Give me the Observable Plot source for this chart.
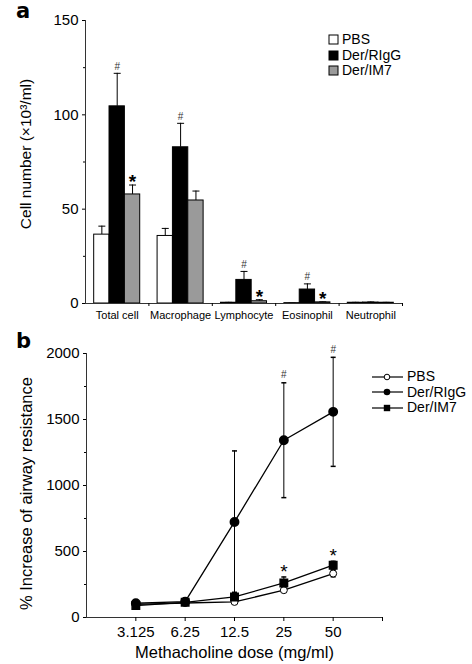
<!DOCTYPE html>
<html><head><meta charset="utf-8">
<script src="https://cdn.jsdelivr.net/npm/d3@7"></script>
<script src="https://cdn.jsdelivr.net/npm/@observablehq/plot@0.6"></script>
<style>
body{margin:0;background:#fff;font-family:"Liberation Sans",Arial,sans-serif;color:#000;}
#wrap{position:relative;width:472px;height:664px;overflow:hidden;}
.panel{position:absolute;left:0;}
.plab{position:absolute;font-weight:bold;font-size:21px;line-height:22px;font-family:"DejaVu Sans","Liberation Sans",sans-serif;}
.leg{position:absolute;font-size:14px;line-height:15.5px;}
.leg div{display:flex;align-items:center;height:15.5px;}
.leg svg{margin-right:3px;}
</style></head><body><div id="wrap"></div>
<script>
// ---- Panel a data ----
const cellGroups = ["Total cell", "Macrophage", "Lymphocyte", "Eosinophil", "Neutrophil"];
const cellSeries = ["PBS", "Der/RIgG", "Der/IM7"];
const pbsCells = [36.5, 35.8, 0.4, 0.2, 0.4];
const pbsCellErr = [4.5, 4.0, 0.2, 0.1, 0.2];
const rigCells = [104.5, 82.8, 12.5, 7.4, 0.5];
const rigCellErr = [17.5, 12.7, 4.5, 3.0, 0.3];
const im7Cells = [57.8, 54.6, 1.2, 0.6, 0.4];
const im7CellErr = [5.0, 5.0, 0.8, 0.3, 0.2];
const rigCellSig = ["#", "#", "#", "#", ""];
const im7CellSig = ["*", "", "*", "*", ""];
const cellTicks = [0, 50, 100, 150];
const cellMinorTicks = [25, 75, 125];
const cellYLabel = "Cell number (×10³/ml)";

// ---- Panel b data ----
const doses = [3.125, 6.25, 12.5, 25, 50];
const arSeries = ["PBS", "Der/RIgG", "Der/IM7"];
const pbsAR = [100, 110, 118, 207, 333];
const pbsARErr = [10, 10, 15, 15, 25];
const rigAR = [108, 120, 724, 1343, 1558];
const rigARErr = [15, 15, 538, 435, 413];
const im7AR = [90, 115, 156, 262, 396];
const im7ARErr = [10, 10, 35, 45, 30];
const rigARSig = ["", "", "", "#", "#"];
const im7ARSig = ["", "", "", "*", "*"];
const arTicks = [0, 500, 1000, 1500, 2000];
const arMinorTicks = [250, 750, 1250, 1750];
const arYLabel = "% Increase of airway resistance";
const arXLabel = "Methacholine dose (mg/ml)";

const FONT = "Liberation Sans, Arial, sans-serif";
const wrap = document.getElementById("wrap");

// custom horizontal cap symbol for error bars
const capSymbol = {draw(ctx, size) { const w = Math.sqrt(size / Math.PI); ctx.moveTo(-w, 0); ctx.lineTo(w, 0); }};

// ---------- Panel a ----------
const cellVals = [pbsCells, rigCells, im7Cells];
const cellErrs = [pbsCellErr, rigCellErr, im7CellErr];
const cellSigs = [cellGroups.map(() => ""), rigCellSig, im7CellSig];
const rowsA = [];
cellGroups.forEach((g, gi) => cellSeries.forEach((s, si) => {
  rowsA.push({g, gi, s, si, v: cellVals[si][gi], e: cellErrs[si][gi], m: cellSigs[si][gi]});
}));
const bw = 0.242;
const xl = d => d.gi + 0.5 + (d.si - 1.5) * bw;
const xc = d => xl(d) + bw / 2;

const plotA = Plot.plot({
  width: 472, height: 330,
  marginLeft: 85, marginRight: 70, marginTop: 20, marginBottom: 27,
  style: {fontFamily: FONT, fontSize: "15px", background: "#fff", color: "#000"},
  x: {domain: [0, cellGroups.length]},
  y: {domain: [0, 150]},
  color: {domain: cellSeries, range: ["#ffffff", "#000000", "#9a9a9a"]},
  marks: [
    Plot.ruleX(rowsA, {x: xc, y1: "v", y2: d => d.v + d.e, stroke: "#000", strokeWidth: 1}),
    Plot.dot(rowsA, {x: xc, y: d => d.v + d.e, symbol: capSymbol, r: 3.5, stroke: "#000", strokeWidth: 1}),
    Plot.rectY(rowsA, {x1: xl, x2: d => xl(d) + bw, y: "v", fill: "s", stroke: "#000", strokeWidth: 1}),
    Plot.text(rowsA.filter(d => d.m === "#"), {x: xc, y: d => d.v + d.e, text: "m", dy: -7, fontSize: 10, fill: "#333"}),
    Plot.text(rowsA.filter(d => d.m === "*"), {x: xc, y: d => d.v + d.e, text: "m", dy: -3, fontSize: 19, fontWeight: "bold"}),
    Plot.frame({anchor: "left", stroke: "#333"}),
    Plot.frame({anchor: "bottom", stroke: "#333"}),
    Plot.axisY({ticks: cellTicks, tickSize: 3, tickPadding: 4, fontSize: 15, tickFormat: d3.format("d"), label: null}),
    Plot.axisY({ticks: cellMinorTicks, tickSize: 2, tickFormat: () => "", label: null}),
    Plot.text([cellYLabel], {frameAnchor: "left", text: d => d, rotate: -90, textAnchor: "middle", lineAnchor: "middle", dx: -59, dy: -8, fontSize: 15.5}),
    Plot.axisX({ticks: cellGroups.map((g, i) => i + 1), tickSize: 3, tickFormat: () => "", label: null}),
    Plot.axisX({ticks: cellGroups.map((g, i) => i + 0.5), tickSize: 0, tickPadding: 8, fontSize: 11,
      tickFormat: d => cellGroups[Math.floor(d)], label: null})
  ]
});
plotA.classList.add("panel");
plotA.style.top = "0px";
wrap.appendChild(plotA);

// ---------- Panel b ----------
const arVals = [pbsAR, rigAR, im7AR];
const arErrs = [pbsARErr, rigARErr, im7ARErr];
const arSigs = [doses.map(() => ""), rigARSig, im7ARSig];
const rowsB = [];
arSeries.forEach((s, si) => doses.forEach((dose, di) => {
  rowsB.push({s, si, dose, v: arVals[si][di], e: arErrs[si][di], m: arSigs[si][di]});
}));

const plotB = Plot.plot({
  width: 472, height: 334,
  marginLeft: 86, marginRight: 90, marginTop: 23, marginBottom: 47,
  style: {fontFamily: FONT, fontSize: "15px", background: "#fff", color: "#000"},
  x: {type: "log", base: 2, domain: [doses[0] / 2, doses[doses.length - 1] * 2]},
  y: {domain: [0, 2000]},
  marks: [
    Plot.ruleX(rowsB, {x: "dose", y1: d => d.v - d.e, y2: d => d.v + d.e, stroke: "#000", strokeWidth: 1}),
    Plot.dot(rowsB, {x: "dose", y: d => d.v + d.e, symbol: capSymbol, r: 2.5, stroke: "#000"}),
    Plot.dot(rowsB, {x: "dose", y: d => d.v - d.e, symbol: capSymbol, r: 2.5, stroke: "#000"}),
    Plot.line(rowsB, {x: "dose", y: "v", z: "s", stroke: "#000", strokeWidth: 1.3}),
    Plot.dot(rowsB.filter(d => d.si === 0), {x: "dose", y: "v", r: 3.5, fill: "#fff", stroke: "#000", strokeWidth: 1}),
    Plot.dot(rowsB.filter(d => d.si === 1), {x: "dose", y: "v", r: 4.2, fill: "#000", stroke: "#000"}),
    Plot.dot(rowsB.filter(d => d.si === 2), {x: "dose", y: "v", r: 4.2, symbol: "square", fill: "#000", stroke: "#000"}),
    Plot.text(rowsB.filter(d => d.m === "#"), {x: "dose", y: d => d.v + d.e, text: "m", dy: -8, fontSize: 10, fill: "#333"}),
    Plot.text(rowsB.filter(d => d.m === "*"), {x: "dose", y: d => d.v + d.e, text: "m", dy: -5, fontSize: 19}),
    Plot.frame({anchor: "left", stroke: "#333"}),
    Plot.frame({anchor: "bottom", stroke: "#333"}),
    Plot.axisY({ticks: arTicks, tickSize: 3, tickPadding: 4, fontSize: 15, tickFormat: d3.format("d"), label: null}),
    Plot.axisY({ticks: arMinorTicks, tickSize: 2, tickFormat: () => "", label: null}),
    Plot.text([arYLabel], {frameAnchor: "left", text: d => d, rotate: -90, textAnchor: "middle", lineAnchor: "middle", dx: -60, dy: 8, fontSize: 16.5}),
    Plot.axisX({ticks: doses, tickSize: 4, tickPadding: 5, fontSize: 15, tickFormat: d => String(d), label: null}),
    Plot.axisX({ticks: [doses[doses.length - 1] * 2], tickSize: 4, tickFormat: () => "", label: null}),
    Plot.text([arXLabel], {frameAnchor: "bottom", text: d => d, textAnchor: "middle", lineAnchor: "middle", dy: 35, fontSize: 16.5})
  ]
});
plotB.classList.add("panel");
plotB.style.top = "330px";
wrap.appendChild(plotB);

// ---------- Panel labels ----------
function addLabel(txt, left, top) {
  const d = document.createElement("div");
  d.className = "plab"; d.textContent = txt;
  d.style.left = left + "px"; d.style.top = top + "px";
  wrap.appendChild(d);
}
addLabel("a", 16, 0);
addLabel("b", 16, 330);

// ---------- Legend a ----------
const legA = document.createElement("div");
legA.className = "leg"; legA.style.left = "328px"; legA.style.top = "32px";
const legAColors = ["#ffffff", "#000000", "#9a9a9a"];
cellSeries.forEach((s, i) => {
  const row = document.createElement("div");
  row.innerHTML = `<svg width="11" height="11"><rect x="1" y="1" width="9" height="9" fill="${legAColors[i]}" stroke="#000"/></svg><span>${s}</span>`;
  legA.appendChild(row);
});
wrap.appendChild(legA);

// ---------- Legend b ----------
const legB = document.createElement("div");
legB.className = "leg"; legB.style.left = "371px"; legB.style.top = "369px";
const markerSvg = [
  '<circle cx="16" cy="6" r="2.8" fill="#fff" stroke="#000"/>',
  '<circle cx="16" cy="6" r="3.3" fill="#000"/>',
  '<rect x="12.8" y="2.8" width="6.4" height="6.4" fill="#000"/>'
];
arSeries.forEach((s, i) => {
  const row = document.createElement("div");
  row.innerHTML = `<svg width="33" height="12"><line x1="1" x2="32" y1="6" y2="6" stroke="#000" stroke-width="1.2"/>${markerSvg[i]}</svg><span>${s}</span>`;
  legB.appendChild(row);
});
wrap.appendChild(legB);
</script></body></html>
